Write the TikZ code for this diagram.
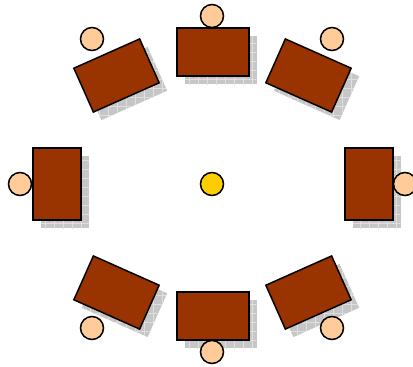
\documentclass[tikz,border=0pt]{standalone}
\usetikzlibrary{patterns.meta}
\definecolor{tablebrown}{HTML}{993300}
\definecolor{chairpeach}{HTML}{FFCC99}
\definecolor{centergold}{HTML}{FFCC00}
\begin{document}
\begin{tikzpicture}[x=1pt,y=-1pt,
  tablebox/.style={draw=black, line width=1.5pt, fill=tablebrown, rectangle, inner sep=0pt, minimum width=72pt, minimum height=48pt},
  shadowbox/.style={rectangle, inner sep=0pt, minimum width=72pt, minimum height=48pt, fill=gray!45,
    postaction={pattern={Lines[distance=9pt,angle=0,line width=0.5pt]}, pattern color=white!75!gray},
    postaction={pattern={Lines[distance=9pt,angle=90,line width=0.5pt]}, pattern color=white!75!gray}},
  chair/.style={circle, draw=black, line width=1.5pt, fill=chairpeach, minimum size=23pt, inner sep=0pt},
  centre/.style={circle, draw=black, line width=1.5pt, fill=centergold, minimum size=23pt, inner sep=0pt}]
\useasboundingbox (0,0) rectangle (413,367);
\clip (0,0) rectangle (413,367);
% shadows
\node[shadowbox] (s1) at (221,60) {};
\node[shadowbox] (s2) at (221,324) {};
\node[shadowbox, rotate=90] (s3) at (65,192) {};
\node[shadowbox, rotate=90] (s4) at (377,192) {};
\node[shadowbox, rotate=24] (s5) at (124.5,83.5) {};
\node[shadowbox, rotate=-24] (s6) at (316.5,83.5) {};
\node[shadowbox, rotate=-24] (s7) at (124.5,300.5) {};
\node[shadowbox, rotate=24] (s8) at (316.5,300.5) {};
% chairs
\node[chair] (c1) at (212,16) {};
\node[chair] (c2) at (212,352) {};
\node[chair] (c3) at (20,184) {};
\node[chair] (c4) at (405,184) {};
\node[chair] (c5) at (92,39) {};
\node[chair] (c6) at (332,39) {};
\node[chair] (c7) at (92,328) {};
\node[chair] (c8) at (332,328) {};
% tables
\node[tablebox] (t1) at (213,52) {};
\node[tablebox] (t2) at (213,316) {};
\node[tablebox, rotate=90] (t3) at (57,184) {};
\node[tablebox, rotate=90] (t4) at (369,184) {};
\node[tablebox, rotate=24] (t5) at (116.5,75.5) {};
\node[tablebox, rotate=-24] (t6) at (308.5,75.5) {};
\node[tablebox, rotate=-24] (t7) at (116.5,292.5) {};
\node[tablebox, rotate=24] (t8) at (308.5,292.5) {};
% centre
\node[centre] (ctr) at (212,184) {};
\end{tikzpicture}
\end{document}
